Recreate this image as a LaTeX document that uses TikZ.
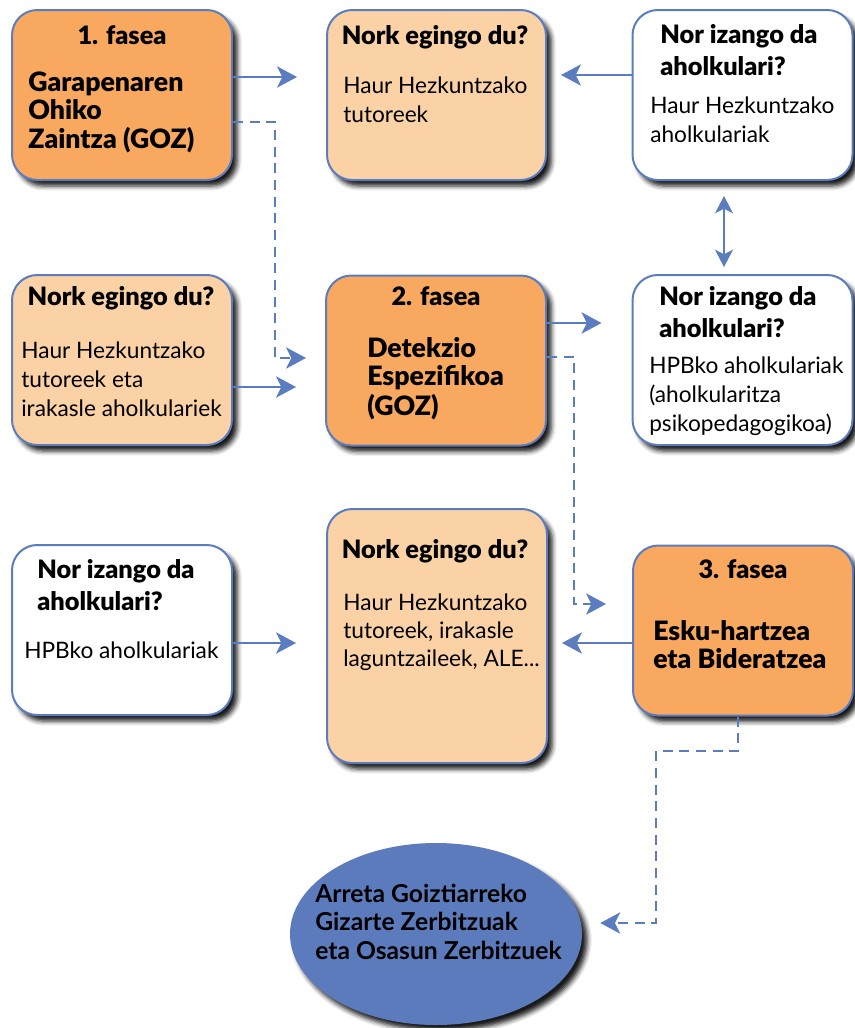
\documentclass[tikz,border=0pt]{standalone}
\usepackage{fontspec}
\setmainfont{Lato}
\newfontfamily\blackfont{Lato Black}
\usetikzlibrary{arrows.meta,shapes.geometric,shadows.blur,calc}
\definecolor{orangefill}{RGB}{249,169,95}
\definecolor{peachfill}{RGB}{251,210,165}
\definecolor{lineblue}{RGB}{91,124,191}
\definecolor{ellblue}{RGB}{91,123,189}
\newcommand\ttlfont{\blackfont\fontsize{19}{24}\selectfont}
\newcommand\bdyfont{\fontsize{17}{22}\selectfont}
\newcommand\rows[1]{\begin{tabular}[t]{@{}l@{}}#1\end{tabular}}
\tikzset{
  box/.style={draw=lineblue, line width=1.5pt, rounded corners=19pt,
    minimum width=165pt, minimum height=127.5pt, inner sep=0pt,
    blur shadow={shadow xshift=4pt, shadow yshift=-4.5pt, shadow blur radius=3.5pt, shadow opacity=90}},
  phase/.style={box, fill=orangefill},
  who/.style={box, fill=peachfill},
  adv/.style={box, fill=white},
  ttl/.style={font=\ttlfont, inner sep=0pt, anchor=base},
  ttlw/.style={font=\ttlfont, inner sep=0pt, anchor=base west},
  bdy/.style={font=\bdyfont, inner sep=0pt, anchor=base west},
  bbdy/.style={font=\blackfont\fontsize{20}{21}\selectfont, inner sep=0pt, anchor=base west},
  conn/.style={draw=lineblue, line width=1.5pt, -{Stealth[length=15pt,width=16pt,inset=4pt]}},
  dconn/.style={conn, dash pattern=on 7.5pt off 5pt},
}
\begin{document}
\begin{tikzpicture}[x=0.75pt, y=-0.75pt]
\path[use as bounding box] (0,0) rectangle (854,1028);

% boxes
\node[phase] (b1) at (122,95) {};
\node[who, minimum width=164.25pt] (n1) at (436.5,95) {};
\node[adv] (a1) at (742.5,95) {};
\node[who] (n2) at (122,360) {};
\node[phase] (b2) at (436,360.5) {};
\node[adv] (a2) at (742.5,360) {};
\node[adv] (a3) at (122,630) {};
\node[who, minimum height=190.5pt] (n3) at (437,636) {};
\node[phase] (b3) at (743,630.5) {};
\node[ellipse, fill=ellblue, minimum width=219pt, minimum height=136.5pt, inner sep=0pt,
  blur shadow={shadow xshift=4pt, shadow yshift=-4.5pt, shadow blur radius=3.5pt, shadow opacity=90}] (ell) at (436,934) {};

% texts
\node[ttl] (tb1) at (122,44) {1. fasea};
\node[bbdy] (xb1) at (28,91) {\rows{Garapenaren\\Ohiko\\Zaintza (GOZ)}};
\node[ttl] (tn1) at (435,44) {Nork egingo du?};
\node[bdy] (xn1) at (343,93) {\rows{Haur Hezkuntzako\\tutoreek}};
\node[ttlw] (ta1) at (660,43) {\rows{Nor izango da\\aholkulari?}};
\node[bdy] (xa1) at (650,113) {\rows{Haur Hezkuntzako\\aholkulariak}};

\node[ttl] (tn2) at (121,305) {Nork egingo du?};
\node[bdy] (xn2) at (21,358) {\rows{Haur Hezkuntzako\\tutoreek eta\\irakasle aholkulariek}};
\node[ttl] (tb2) at (436,305) {2. fasea};
\node[bbdy] (xb2) at (367,357) {\rows{Detekzio\\Espezifikoa\\(GOZ)}};
\node[ttlw] (ta2) at (659,305) {\rows{Nor izango da\\aholkulari?}};
\node[bdy] (xa2) at (649,373) {\rows{HPBko aholkulariak\\(aholkularitza\\psikopedagogikoa)}};

\node[ttlw] (ta3) at (37,578) {\rows{Nor izango da\\aholkulari?}};
\node[bdy] (xa3) at (24,658) {HPBko aholkulariak};
\node[ttl] (tn3) at (435,558) {Nork egingo du?};
\node[bdy, font=\fontsize{17}{21}\selectfont] (xn3) at (343,610) {\rows{Haur Hezkuntzako\\tutoreek, irakasle\\laguntzaileek, ALE...}};
\node[ttl] (tb3) at (743,578) {3. fasea};
\node[bbdy] (xb3) at (653,640) {\rows{Esku-hartzea\\eta Bideratzea}};

\node[bbdy, font=\bfseries\fontsize{18.5}{21.5}\selectfont] (xell) at (315,902) {\rows{Arreta Goiztiarreko\\Gizarte Zerbitzuak\\eta Osasun Zerbitzuek}};

% connectors
\draw[conn] ($(b1.east)+(0,-18)$) -- ($(n1.west)+(-29,-18)$);
\draw[conn] ($(a1.west)+(0,-20)$) -- ($(n1.east)+(14,-20)$);
\draw[draw=lineblue, line width=1.5pt, {Stealth[length=13pt,width=13.5pt,inset=3.5pt]}-{Stealth[length=13pt,width=13.5pt,inset=3.5pt]}]
  ($(a1.south)+(-18.5,15)$) -- ($(a2.north)+(-18.5,-7)$);
\draw[dconn] ($(b1.east)+(0,27)$) -| ($(b2.west)+(-50,-2.5)$) -- ($(b2.west)+(-19,-2.5)$);
\draw[conn] ($(n2.east)+(0,27)$) -- ($(b2.west)+(-29,26.5)$);
\draw[conn] ($(b2.east)+(0,-37.5)$) -- ($(a2.west)+(-30,-37)$);
\draw[dconn] ($(b2.east)+(0,-3.5)$) -| ($(b3.west)+(-58,-26.5)$) -- ($(b3.west)+(-26,-26.5)$);
\draw[conn] ($(b3.west)+(0,12.5)$) -- ($(n3.east)+(14,7)$);
\draw[conn] ($(a3.east)+(0,13)$) -- ($(n3.west)+(-30,7)$);
\coordinate (c1) at (656,751);
\coordinate (c2) at (656,923);
\draw[dconn] ($(b3.south)+(-5,0)$) |- (c1) -- (c2) -- ($(ell.east)+(18,-11)$);
\end{tikzpicture}
\end{document}
